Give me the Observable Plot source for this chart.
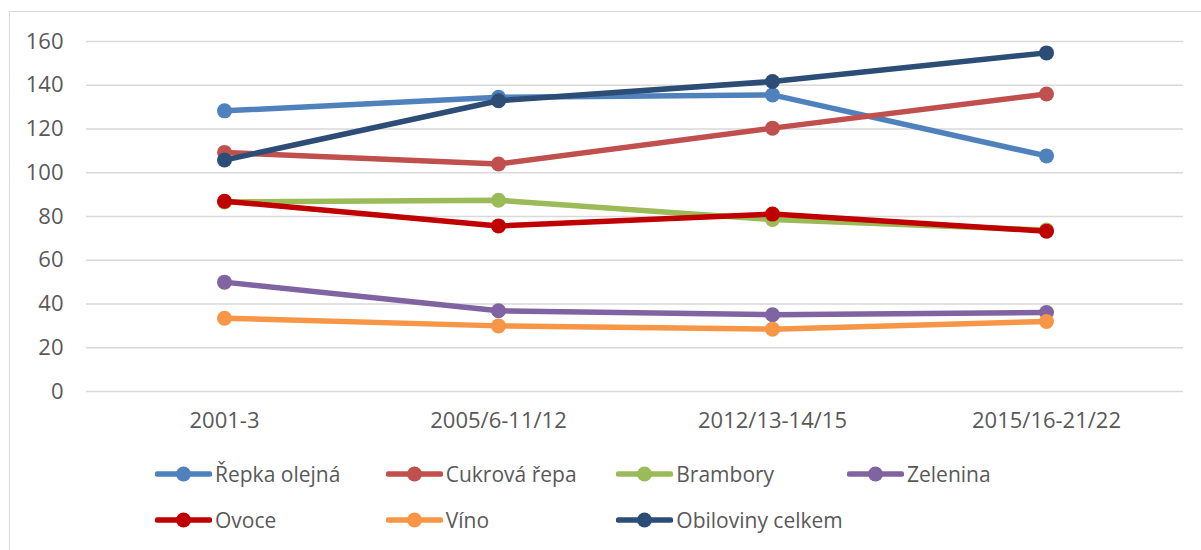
<!DOCTYPE html>
<html>
<head>
<meta charset="utf-8">
<script src="https://cdn.jsdelivr.net/npm/d3@7"></script>
<script src="https://cdn.jsdelivr.net/npm/@observablehq/plot@0.6"></script>
<style>
  html, body { margin: 0; padding: 0; background: #fff; }
  #wrap { position: relative; width: 1201px; height: 550px; overflow: hidden; font-family: "Open Sans", sans-serif; }
  #frame { position: absolute; left: 9px; top: 11px; width: 1300px; height: 700px; border-left: 1.5px solid #d9d9d9; border-top: 1.5px solid #d9d9d9; }
  #chart { position: absolute; left: 0; top: 0; }
  #legend { position: absolute; left: 0; top: 0; width: 1201px; height: 550px; }
  .item { position: absolute; display: flex; align-items: center; height: 30px; font-size: 21px; color: #595959; white-space: nowrap; }
  .item svg { margin-right: 3px; }
</style>
</head>
<body>
<div id="wrap">
  <div id="frame"></div>
  <div id="chart"></div>
  <div id="legend"></div>
</div>
<script>
// Periods on the x axis
const categories = ["2001-3", "2005/6-11/12", "2012/13-14/15", "2015/16-21/22"];

// Series names, in drawing / legend order
const seriesNames = ["Řepka olejná", "Cukrová řepa", "Brambory", "Zelenina", "Ovoce", "Víno", "Obiloviny celkem"];
const seriesColors = ["#4f81bd", "#c0504d", "#9bbb59", "#8064a2", "#c00000", "#f79646", "#2c4d75"];

// Values per series, one per period
const repkaOlejna = [128.3, 134.5, 135.6, 107.7];
const cukrovaRepa = [109.3, 104.0, 120.4, 136.0];
const brambory = [86.6, 87.4, 78.6, 73.8];
const zelenina = [50.0, 36.9, 35.1, 36.1];
const ovoce = [87.0, 75.7, 81.1, 73.3];
const vino = [33.5, 30.0, 28.5, 32.0];
const obilovinyCelkem = [105.8, 132.9, 141.7, 154.8];

// Y axis ticks
const yTicks = [0, 20, 40, 60, 80, 100, 120, 140, 160];

const seriesValues = [repkaOlejna, cukrovaRepa, brambory, zelenina, ovoce, vino, obilovinyCelkem];
const rows = seriesNames.map((name, i) =>
  categories.map((c, j) => ({series: name, period: c, value: seriesValues[i][j]}))
);

// Each series gets its own line + dots so later series sit on top
const seriesMarks = rows.flatMap((data, i) => [
  Plot.line(data, {x: "period", y: "value", stroke: seriesColors[i], strokeWidth: 5.5, strokeLinejoin: "round", strokeLinecap: "round"}),
  Plot.dot(data, {x: "period", y: "value", r: 7.5, fill: seriesColors[i], stroke: "none"})
]);

const chart = Plot.plot({
  width: 1201,
  height: 440,
  marginTop: 41,
  marginLeft: 86,
  marginRight: 18,
  marginBottom: 49,
  style: {fontFamily: "Open Sans, sans-serif", fontSize: "22px", color: "#595959", background: "transparent", overflow: "visible"},
  x: {type: "point", domain: categories, padding: 0.5, label: null},
  y: {domain: [0, 160], label: null},
  marks: [
    Plot.ruleY(yTicks, {stroke: "#d9d9d9", strokeWidth: 1.5}),
    Plot.axisY({ticks: yTicks, tickSize: 0, tickPadding: 23, label: null, fill: "#595959", fontSize: 22}),
    Plot.axisX({tickSize: 0, tickPadding: 21, label: null, fill: "#595959", fontSize: 22}),
    ...seriesMarks
  ]
});
document.getElementById("chart").appendChild(chart);

// Legend: two rows, four columns
const legend = document.getElementById("legend");
const colX = [155, 385.7, 616.3, 847];
const rowY = [474, 520];
seriesNames.forEach((name, i) => {
  const item = document.createElement("div");
  item.className = "item";
  item.style.left = colX[i % 4] + "px";
  item.style.top = (rowY[Math.floor(i / 4)] - 15) + "px";
  const sw = d3.create("svg").attr("width", 57).attr("height", 20);
  sw.append("line").attr("x1", 2.5).attr("x2", 54.5).attr("y1", 10).attr("y2", 10)
    .attr("stroke", seriesColors[i]).attr("stroke-width", 5.5).attr("stroke-linecap", "round");
  sw.append("circle").attr("cx", 28.5).attr("cy", 10).attr("r", 7.5).attr("fill", seriesColors[i]);
  item.appendChild(sw.node());
  const label = document.createElement("span");
  label.textContent = name;
  item.appendChild(label);
  legend.appendChild(item);
});
</script>
</body>
</html>
